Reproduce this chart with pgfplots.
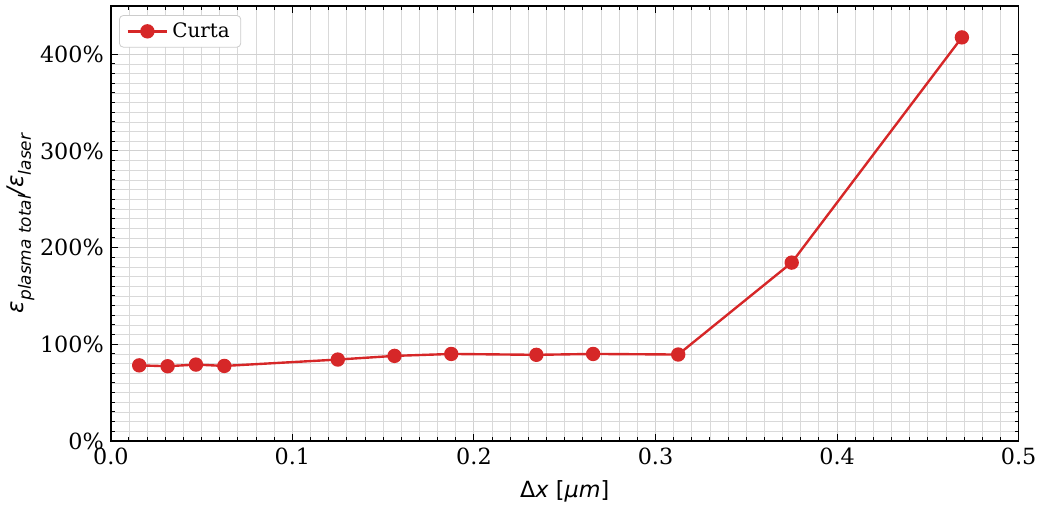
\documentclass[border=0pt]{standalone}
\usepackage{pgfplots}
\pgfplotsset{compat=1.18}
\usepackage{fontspec}
\setmainfont{DejaVu Serif}
\newfontfamily\msans{DejaVu Sans}
\definecolor{tabred}{HTML}{D62728}
\begin{document}
\begin{tikzpicture}
\begin{axis}[
  scale only axis, width=456pt, height=218.5pt,
  xmin=0, xmax=0.5, ymin=0, ymax=450,
  xtick={0,0.1,0.2,0.3,0.4,0.5},
  xticklabels={0.0,0.1,0.2,0.3,0.4,0.5},
  ytick={0,100,200,300,400},
  yticklabels={0\%,100\%,200\%,300\%,400\%},
  minor x tick num=9, minor y tick num=9,
  grid=both,
  major grid style={black!18, line width=0.5pt},
  minor grid style={black!15, line width=0.45pt},
  tick align=inside,
  major tick length=3.5pt, minor tick length=2pt,
  tick style={black, line width=0.5pt},
  axis line style={line width=0.8pt},
  tick label style={font=\fontsize{11.2}{13}\selectfont},
  xlabel={\fontsize{11.2}{13}\selectfont\msans Δ\textit{x} [\textit{μm}]},
  ylabel={\fontsize{11.5}{13}\selectfont\msans\itshape ε\raisebox{-0.6ex}{\fontsize{8.5}{10}\selectfont plasma total}/ε\raisebox{-0.6ex}{\fontsize{8.5}{10}\selectfont laser}},
  xlabel style={yshift=-1pt},
  ylabel style={yshift=-4pt},
  legend style={at={(0.009,0.979)}, anchor=north west, draw=black!20, rounded corners=2pt,
    fill=white, font=\fontsize{10}{11}\selectfont, inner xsep=3.5pt, inner ysep=1.5pt},
  legend cell align=left,
  legend image code/.code={\draw[mark repeat=2,mark phase=2,#1] plot coordinates {(0cm,0cm)(0.35cm,0cm)(0.7cm,0cm)};},
]
\addplot[tabred, line width=1.2pt, mark=*, mark size=3pt, mark options={solid, fill=tabred, draw=tabred}]
  coordinates {
  (0.015625,78.2) (0.03125,77.3) (0.046875,79.0) (0.0625,77.6)
  (0.125,84.2) (0.15625,88.0) (0.1875,90.0) (0.234375,89.1)
  (0.265625,90.0) (0.3125,89.4) (0.375,184.5) (0.46875,417.5)
  };
\addlegendentry{Curta}
\end{axis}
\path (current axis.north) ++(0,3pt) (current axis.east) ++(8.5pt,0);
\end{tikzpicture}
\end{document}
